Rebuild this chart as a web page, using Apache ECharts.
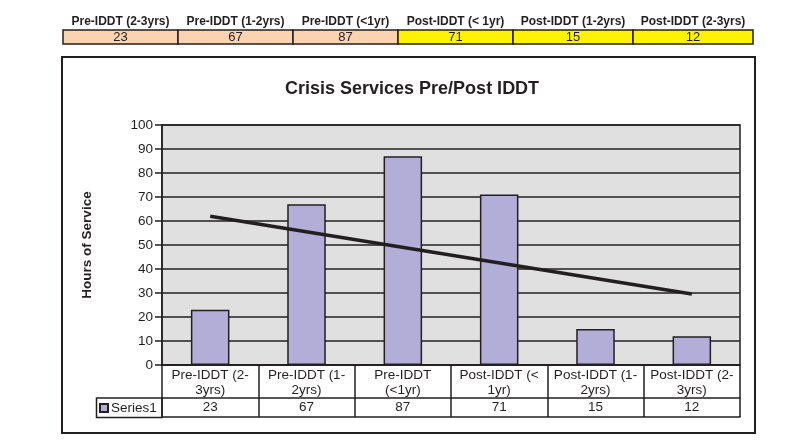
<!DOCTYPE html>
<html>
<head>
<meta charset="utf-8">
<script src="https://cdn.jsdelivr.net/npm/echarts@6/dist/echarts.min.js"></script>
<style>
html,body{margin:0;padding:0;background:#fff;}
#chart{width:794px;height:441px;}
</style>
</head>
<body>
<div id="chart"></div>
<script>
// ---- data ----
var categories = ["Pre-IDDT (2-3yrs)", "Pre-IDDT (1-2yrs)", "Pre-IDDT (<1yr)", "Post-IDDT (< 1yr)", "Post-IDDT (1-2yrs)", "Post-IDDT (2-3yrs)"];
var axisTickLabels = ["Pre-IDDT (2-\n3yrs)", "Pre-IDDT (1-\n2yrs)", "Pre-IDDT\n(<1yr)", "Post-IDDT (<\n1yr)", "Post-IDDT (1-\n2yrs)", "Post-IDDT (2-\n3yrs)"];
var series1 = [23, 67, 87, 71, 15, 12];
var trendValues = [62, null, null, null, null, 29.6];
var topHeaders = ["Pre-IDDT (2-3yrs)", "Pre-IDDT (1-2yrs)", "Pre-IDDT (<1yr)", "Post-IDDT (< 1yr)", "Post-IDDT (1-2yrs)", "Post-IDDT (2-3yrs)"];
var topValues = [23, 67, 87, 71, 15, 12];
var yTicks = [0, 10, 20, 30, 40, 50, 60, 70, 80, 90, 100];

var FONT = '"Liberation Sans", Arial, sans-serif';
var INK = '#231F20';

// top summary table (decoration)
var colEdges = [63, 178, 293, 398, 513, 633, 753];
var topFill = ['#FBD3B0', '#FBD3B0', '#FBD3B0', '#FFF200', '#FFF200', '#FFF200'];
var graphics = [];
for (var i = 0; i < topHeaders.length; i++) {
  var x0 = colEdges[i], x1 = colEdges[i + 1];
  graphics.push({type: 'rect', shape: {x: x0, y: 30, width: x1 - x0, height: 14},
    style: {fill: topFill[i], stroke: INK, lineWidth: 1.5}});
  graphics.push({type: 'text', x: (x0 + x1) / 2, y: 22,
    style: {text: topHeaders[i], font: 'bold 12px ' + FONT, fill: INK, textAlign: 'center', textVerticalAlign: 'middle'}});
  graphics.push({type: 'text', x: (x0 + x1) / 2, y: 37.5,
    style: {text: String(topValues[i]), font: '13px ' + FONT, fill: INK, textAlign: 'center', textVerticalAlign: 'middle'}});
}
// chart frame
graphics.push({type: 'rect', z: -1, shape: {x: 62, y: 57, width: 693, height: 376},
  style: {fill: '#fff', stroke: INK, lineWidth: 2}});
// legend key cell of data table
graphics.push({type: 'rect', z: 10, shape: {x: 96.5, y: 398, width: 65.5, height: 19.5},
  style: {fill: 'none', stroke: INK, lineWidth: 1.5}});

var chart = echarts.init(document.getElementById('chart'), null, {renderer: 'canvas'});
chart.setOption({
  animation: false,
  backgroundColor: '#fff',
  textStyle: {fontFamily: FONT},
  title: {
    text: 'Crisis Services Pre/Post IDDT',
    left: 280, top: 75,
    textStyle: {fontFamily: FONT, fontSize: 18, fontWeight: 'bold', color: INK}
  },
  legend: {
    data: ['Series1'],
    left: 99, top: 401,
    icon: 'rect', itemWidth: 8, itemHeight: 8, itemGap: 3,
    textStyle: {fontFamily: FONT, fontSize: 13.5, color: INK, padding: [0, 0, 0, -2]},
    padding: 0
  },
  graphic: graphics,
  grid: {
    left: 162, right: 54, top: 125, bottom: 76,
    show: true, backgroundColor: '#E0E0E0', borderColor: INK, borderWidth: 1.5
  },
  xAxis: [{
    type: 'category', data: categories, position: 'bottom',
    axisLine: {show: true, lineStyle: {color: INK, width: 1.5}},
    axisTick: {show: true, length: 52, lineStyle: {color: INK, width: 1.5}},
    axisLabel: {
      margin: 3, fontFamily: FONT, fontSize: 13.5, color: INK, lineHeight: 15, interval: 0,
      formatter: function (v, i) { return axisTickLabels[i]; }
    },
    splitLine: {show: false}
  }, {
    type: 'category', data: categories, position: 'bottom', offset: 33, gridIndex: 0,
    axisLine: {show: true, lineStyle: {color: INK, width: 1.5}},
    axisTick: {show: false},
    axisLabel: {
      margin: 2, fontFamily: FONT, fontSize: 13.5, color: INK, interval: 0,
      formatter: function (v, i) { return String(series1[i]); }
    }
  }, {
    type: 'category', data: categories, position: 'bottom', offset: 52, gridIndex: 0,
    axisLine: {show: true, lineStyle: {color: INK, width: 1.5}},
    axisTick: {show: false},
    axisLabel: {show: false}
  }],
  yAxis: {
    type: 'value', min: 0, max: 100, interval: 10,
    name: 'Hours of Service', nameLocation: 'middle', nameGap: 68, nameRotate: 90,
    nameTextStyle: {fontFamily: FONT, fontSize: 13.5, fontWeight: 'bold', color: INK},
    axisLine: {show: true, lineStyle: {color: INK, width: 1.5}},
    axisTick: {show: true, length: 7, lineStyle: {color: INK, width: 1.5}},
    axisLabel: {margin: 9, fontFamily: FONT, fontSize: 13.5, color: INK,
      formatter: function (v) { return yTicks.indexOf(v) >= 0 ? String(v) : ''; }},
    splitLine: {show: true, lineStyle: {color: INK, width: 1.5}}
  },
  series: [{
    name: 'Series1', type: 'bar', data: series1, barWidth: '40%',
    itemStyle: {color: '#B3AED8', borderColor: INK, borderWidth: 1.5}
  }, {
    name: 'Trend', type: 'line', data: trendValues, connectNulls: true,
    symbol: 'none', z: 5,
    lineStyle: {color: INK, width: 3.5}
  }]
});
</script>
</body>
</html>
